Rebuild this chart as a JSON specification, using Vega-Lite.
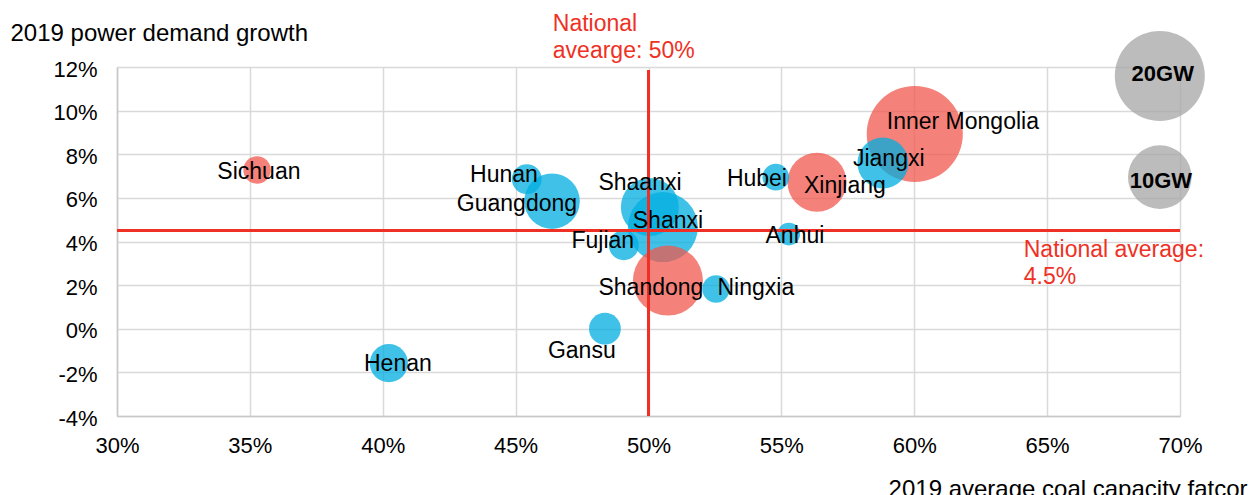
{
  "$schema": "https://vega.github.io/schema/vega-lite/v6.json",
  "width": 1063,
  "height": 349,
  "autosize": "none",
  "padding": {"left": 117, "top": 67, "right": 70, "bottom": 79},
  "config": {
    "font": "Liberation Sans",
    "view": {"stroke": null},
    "axis": {
      "grid": true,
      "gridColor": "#d9d9d9",
      "gridWidth": 1.5,
      "domainColor": "#c8c8c8",
      "domainWidth": 1.5,
      "ticks": false,
      "labelFlush": false,
      "labelOverlap": false,
      "labelFontSize": 22,
      "labelColor": "#000000",
      "labelFont": "Liberation Sans",
      "titleFont": "Liberation Sans",
      "titleFontSize": 24,
      "titleFontWeight": "normal",
      "titleColor": "#000000"
    }
  },
  "datasets": {
    "bubbles": [
      {"name": "Inner Mongolia", "x": 60.02, "y": 8.93, "gw": 22.8, "cat": "Group A", "lx": 61.83, "ly": 9.52},
      {"name": "Shanxi", "x": 50.54, "y": 4.66, "gw": 12.1, "cat": "Group B", "lx": 50.73, "ly": 4.98},
      {"name": "Shaanxi", "x": 50.05, "y": 5.58, "gw": 8.3, "cat": "Group B", "lx": 49.68, "ly": 6.72},
      {"name": "Shandong", "x": 50.73, "y": 2.21, "gw": 12.1, "cat": "Group A", "lx": 50.09, "ly": 1.91},
      {"name": "Xinjiang", "x": 56.34, "y": 6.72, "gw": 8.6, "cat": "Group A", "lx": 57.39, "ly": 6.59},
      {"name": "Jiangxi", "x": 58.82, "y": 7.6, "gw": 6.4, "cat": "Group B", "lx": 59.04, "ly": 7.83},
      {"name": "Guangdong", "x": 46.37, "y": 5.85, "gw": 7.6, "cat": "Group B", "lx": 45.05, "ly": 5.76},
      {"name": "Henan", "x": 40.23, "y": -1.58, "gw": 3.6, "cat": "Group B", "lx": 40.57, "ly": -1.58},
      {"name": "Gansu", "x": 48.36, "y": 0.0, "gw": 2.5, "cat": "Group B", "lx": 47.49, "ly": -0.98},
      {"name": "Hunan", "x": 45.42, "y": 6.86, "gw": 2.2, "cat": "Group B", "lx": 44.56, "ly": 7.09},
      {"name": "Fujian", "x": 49.07, "y": 3.83, "gw": 2.2, "cat": "Group B", "lx": 48.28, "ly": 4.06},
      {"name": "Sichuan", "x": 35.27, "y": 7.28, "gw": 1.85, "cat": "Group A", "lx": 35.34, "ly": 7.23},
      {"name": "Ningxia", "x": 52.54, "y": 1.82, "gw": 1.85, "cat": "Group B", "lx": 54.04, "ly": 1.91},
      {"name": "Hubei", "x": 54.79, "y": 6.95, "gw": 1.75, "cat": "Group B", "lx": 54.08, "ly": 6.91},
      {"name": "Anhui", "x": 55.28, "y": 4.34, "gw": 1.26, "cat": "Group B", "lx": 55.51, "ly": 4.29},
      {"name": "20GW", "x": 69.24, "y": 11.59, "gw": 20, "cat": "Key", "lx": 69.35, "ly": 11.72},
      {"name": "10GW", "x": 69.24, "y": 6.95, "gw": 10, "cat": "Key", "lx": 69.28, "ly": 6.82}
    ],
    "vrule": [{"x": 50, "y": -4, "y2": 11.86}],
    "hrule": [{"x": 30, "x2": 70, "y": 4.5}],
    "notes": [
      {"text": ["National", "avearge: 50%"], "x": 46.4, "y": 14.46},
      {"text": ["National average:", "4.5%"], "x": 64.12, "y": 4.11}
    ]
  },
  "layer": [
    {
      "data": {"name": "bubbles"},
      "mark": {"type": "circle", "clip": false},
      "encoding": {
        "x": {
          "field": "x", "type": "quantitative",
          "scale": {"domain": [30, 70], "nice": false, "zero": false},
          "axis": {
            "values": [30, 35, 40, 45, 50, 55, 60, 65, 70],
            "labelExpr": "datum.value + '%'",
            "labelPadding": 19,
            "title": "2019 average coal capacity fatcor",
            "titleAngle": 0,
            "titleAlign": "right",
            "titleBaseline": "top",
            "titleX": 1130,
            "titleY": 61
          }
        },
        "y": {
          "field": "y", "type": "quantitative",
          "scale": {"domain": [-4, 12], "nice": false, "zero": false},
          "axis": {
            "values": [-4, -2, 0, 2, 4, 6, 8, 10, 12],
            "labelExpr": "datum.value + '%'",
            "labelPadding": 20,
            "labelOffset": 2,
            "title": "2019 power demand growth",
            "titleAngle": 0,
            "titleAlign": "left",
            "titleBaseline": "middle",
            "titleX": -107,
            "titleY": -34
          }
        },
        "size": {
          "field": "gw", "type": "quantitative",
          "scale": {"domain": [0, 30], "range": [0, 12150], "zero": true},
          "legend": null
        },
        "color": {
          "field": "cat", "type": "nominal",
          "scale": {"domain": ["Group A", "Group B", "Key"], "range": ["#f0584e", "#00aee0", "#a6a6a6"]},
          "legend": null
        },
        "opacity": {
          "field": "cat", "type": "nominal",
          "scale": {"domain": ["Group A", "Group B", "Key"], "range": [0.75, 0.75, 1]},
          "legend": null
        }
      }
    },
    {
      "data": {"name": "vrule"},
      "mark": {"type": "rule", "color": "#ee3124", "strokeWidth": 3},
      "encoding": {
        "x": {"field": "x", "type": "quantitative"},
        "y": {"field": "y", "type": "quantitative"},
        "y2": {"field": "y2"}
      }
    },
    {
      "data": {"name": "hrule"},
      "mark": {"type": "rule", "color": "#ee3124", "strokeWidth": 3},
      "encoding": {
        "x": {"field": "x", "type": "quantitative"},
        "x2": {"field": "x2"},
        "y": {"field": "y", "type": "quantitative"}
      }
    },
    {
      "data": {"name": "bubbles"},
      "transform": [{"filter": "datum.cat != 'Key'"}],
      "mark": {"type": "text", "fontSize": 23, "color": "#000000", "align": "center", "baseline": "middle", "dy": 1},
      "encoding": {
        "x": {"field": "lx", "type": "quantitative"},
        "y": {"field": "ly", "type": "quantitative"},
        "text": {"field": "name"}
      }
    },
    {
      "data": {"name": "bubbles"},
      "transform": [{"filter": "datum.cat == 'Key'"}],
      "mark": {"type": "text", "fontSize": 22, "fontWeight": "bold", "color": "#000000", "align": "center", "baseline": "middle", "dy": 1},
      "encoding": {
        "x": {"field": "lx", "type": "quantitative"},
        "y": {"field": "ly", "type": "quantitative"},
        "text": {"field": "name"}
      }
    },
    {
      "data": {"name": "notes"},
      "mark": {"type": "text", "fontSize": 23, "color": "#ee3124", "align": "left", "baseline": "top", "lineHeight": 27},
      "encoding": {
        "x": {"field": "x", "type": "quantitative"},
        "y": {"field": "y", "type": "quantitative"},
        "text": {"field": "text"}
      }
    }
  ]
}
